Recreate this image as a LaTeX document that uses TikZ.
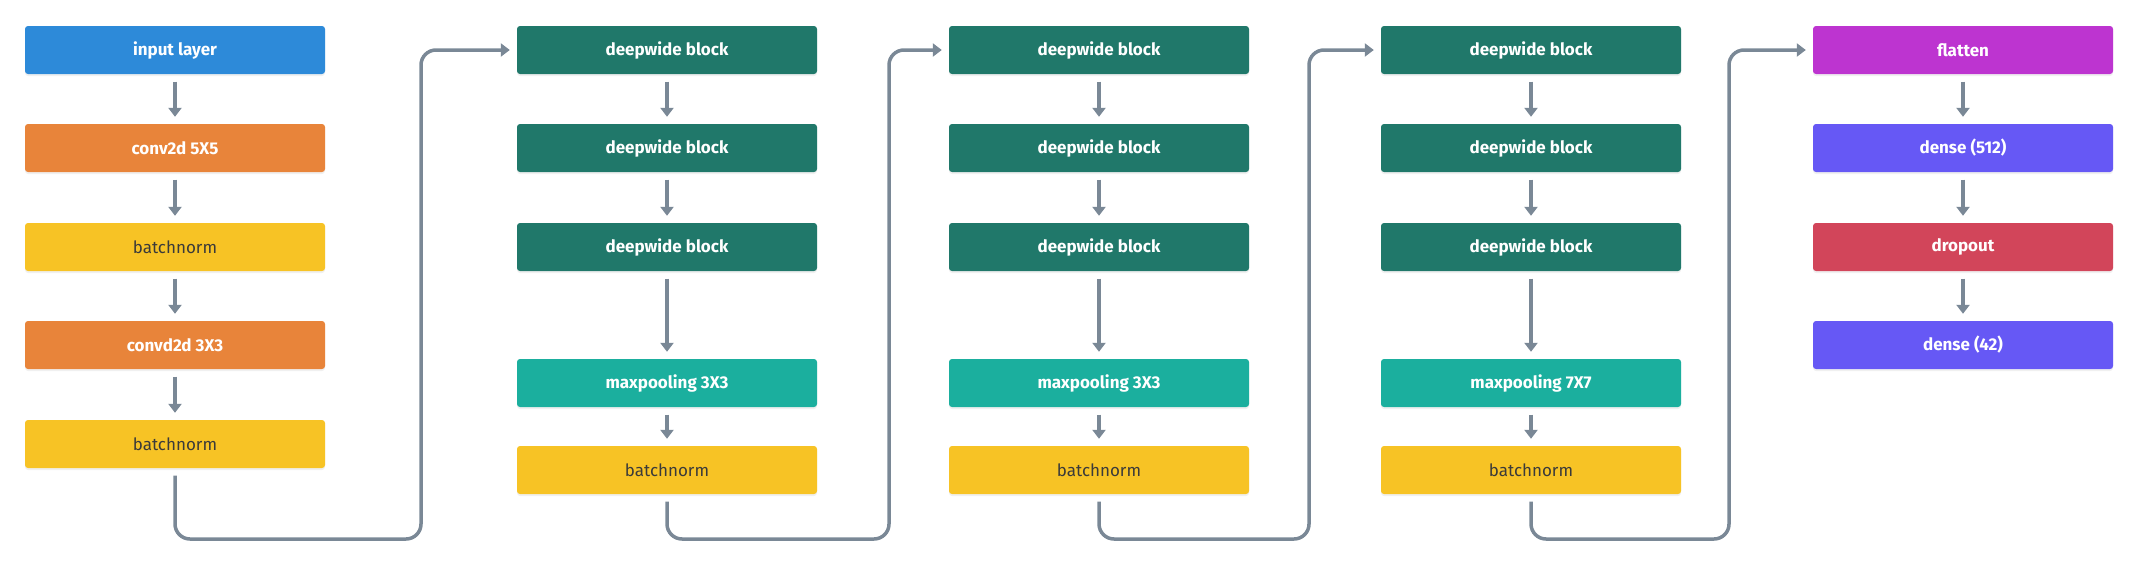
\documentclass[tikz,border=0pt]{standalone}
\usepackage{fontspec}
\setmainfont{Fira Sans}
\usetikzlibrary{arrows.meta,shadows}
\begin{document}
\begin{tikzpicture}[x=1pt,y=-1pt,
  layer/.style={rectangle,rounded corners=3pt,minimum width=300pt,minimum height=48pt,inner sep=0pt,text=white,font=\fontsize{17}{20}\selectfont\bfseries,drop shadow={opacity=0.12,shadow xshift=0pt,shadow yshift=-2pt}},
  normlayer/.style={layer,fill=normcolor,text=textcolor,font=\fontsize{17}{20}\selectfont},
  flow/.style={draw=pathcolor,line width=3.5pt,shorten <=7.5pt,shorten >=7pt,-{Triangle[width=13pt,length=9pt]}},
  link/.style={flow,rounded corners=15pt}]
\definecolor{inputcolor}{RGB}{45,138,217}
\definecolor{convcolor}{RGB}{232,132,58}
\definecolor{normcolor}{RGB}{247,195,37}
\definecolor{deepcolor}{RGB}{32,120,106}
\definecolor{poolcolor}{RGB}{27,175,158}
\definecolor{flatcolor}{RGB}{189,52,208}
\definecolor{densecolor}{RGB}{102,88,245}
\definecolor{dropcolor}{RGB}{210,69,90}
\definecolor{pathcolor}{RGB}{122,136,150}
\definecolor{textcolor}{RGB}{58,58,58}
\useasboundingbox (0,0) rectangle (2138,568);
\node [layer,fill=inputcolor] (input) at (175,50) {input layer};
\node [layer,fill=convcolor] (conv1) at (175,148) {conv2d 5X5};
\node [normlayer] (norm1) at (175,247) {batchnorm};
\node [layer,fill=convcolor] (conv2) at (175,345) {convd2d 3X3};
\node [normlayer] (norm2) at (175,444) {batchnorm};
\node [layer,fill=deepcolor] (deep11) at (667,50) {deepwide block};
\node [layer,fill=deepcolor] (deep12) at (667,148) {deepwide block};
\node [layer,fill=deepcolor] (deep13) at (667,247) {deepwide block};
\node [layer,fill=poolcolor] (pool1) at (667,383) {maxpooling 3X3};
\node [normlayer] (norm3) at (667,470) {batchnorm};
\node [layer,fill=deepcolor] (deep21) at (1099,50) {deepwide block};
\node [layer,fill=deepcolor] (deep22) at (1099,148) {deepwide block};
\node [layer,fill=deepcolor] (deep23) at (1099,247) {deepwide block};
\node [layer,fill=poolcolor] (pool2) at (1099,383) {maxpooling 3X3};
\node [normlayer] (norm4) at (1099,470) {batchnorm};
\node [layer,fill=deepcolor] (deep31) at (1531,50) {deepwide block};
\node [layer,fill=deepcolor] (deep32) at (1531,148) {deepwide block};
\node [layer,fill=deepcolor] (deep33) at (1531,247) {deepwide block};
\node [layer,fill=poolcolor] (pool3) at (1531,383) {maxpooling 7X7};
\node [normlayer] (norm5) at (1531,470) {batchnorm};
\node [layer,fill=flatcolor] (flat) at (1963,50) {flatten};
\node [layer,fill=densecolor] (dense1) at (1963,148) {dense (512)};
\node [layer,fill=dropcolor] (drop) at (1963,247) {dropout};
\node [layer,fill=densecolor] (dense2) at (1963,345) {dense (42)};
\coordinate (turn1) at (421,539);
\coordinate (turn2) at (889,539);
\coordinate (turn3) at (1309,539);
\coordinate (turn4) at (1729,539);
\draw [flow] (input.south) -- (conv1.north);
\draw [flow] (conv1.south) -- (norm1.north);
\draw [flow] (norm1.south) -- (conv2.north);
\draw [flow] (conv2.south) -- (norm2.north);
\draw [flow] (deep11.south) -- (deep12.north);
\draw [flow] (deep12.south) -- (deep13.north);
\draw [flow] (deep13.south) -- (pool1.north);
\draw [flow] (pool1.south) -- (norm3.north);
\draw [flow] (deep21.south) -- (deep22.north);
\draw [flow] (deep22.south) -- (deep23.north);
\draw [flow] (deep23.south) -- (pool2.north);
\draw [flow] (pool2.south) -- (norm4.north);
\draw [flow] (deep31.south) -- (deep32.north);
\draw [flow] (deep32.south) -- (deep33.north);
\draw [flow] (deep33.south) -- (pool3.north);
\draw [flow] (pool3.south) -- (norm5.north);
\draw [flow] (flat.south) -- (dense1.north);
\draw [flow] (dense1.south) -- (drop.north);
\draw [flow] (drop.south) -- (dense2.north);
\draw [link] (norm2.south) -- (norm2.south |- turn1) -- (turn1) -- (turn1 |- deep11.west) -- (deep11.west);
\draw [link] (norm3.south) -- (norm3.south |- turn2) -- (turn2) -- (turn2 |- deep21.west) -- (deep21.west);
\draw [link] (norm4.south) -- (norm4.south |- turn3) -- (turn3) -- (turn3 |- deep31.west) -- (deep31.west);
\draw [link] (norm5.south) -- (norm5.south |- turn4) -- (turn4) -- (turn4 |- flat.west) -- (flat.west);
\end{tikzpicture}
\end{document}
